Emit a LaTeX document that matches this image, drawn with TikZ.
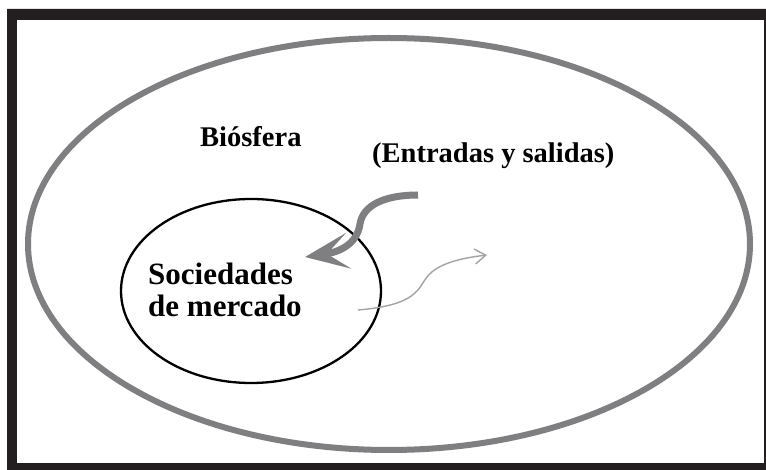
\documentclass[tikz,border=0pt]{standalone}
\usepackage{fontspec}
\setmainfont{Liberation Serif}
\usetikzlibrary{
    arrows.meta,
    calc,
    positioning
}
\definecolor{frm}{HTML}{231F20}
\definecolor{biogray}{HTML}{7F7F81}
\definecolor{thingray}{HTML}{A3A3A5}
\tikzset{lbl/.style={inner sep=0pt, anchor=base west, font=\fontsize{28.5}{30}\selectfont\bfseries}}

\begin{document}
\begin{tikzpicture}[x=1pt, y=-1pt]
                        \useasboundingbox (0, 0) rectangle (766, 470);
                        \fill[frm, even odd rule] (7, 9) rectangle (780, 480) (17, 20) rectangle (764, 463);
                        \fill[white] (17, 20) rectangle (764, 463);
                        \draw[biogray, line width=6pt] (389, 244) ellipse [x radius=361, y radius=206];
                        \draw[black, line width=2.3pt] (251, 291) ellipse [x radius=130, y radius=92];
                        \node[lbl] (bio) at (200, 147) {Biósfera};
                        \node[lbl] (es) at (372, 163) {(Entradas y salidas)};
                        \node[lbl, font=\fontsize{31}{32}\selectfont\bfseries] (soc) at (148, 285) {Sociedades};
                        \node[lbl, font=\fontsize{31}{32}\selectfont\bfseries] (mer) at (148, 317) {de mercado};
                        \coordinate (in1) at (418, 195);
                        \coordinate (in2) at (305, 257);
                        \coordinate (out1) at (358, 310);
                        \coordinate (out2) at (487, 255);
                        \draw[biogray, line width=7pt, -{Stealth[length=44pt, width=36pt, inset=22pt]}]
                        (in1) .. controls (385, 195) and (363, 205) .. (360, 224)
                        .. controls (357, 244) and (340, 252) .. (in2);
                        \draw[thingray, line width=1.4pt, -{Straight Barb[length=11pt, width=15pt]}]
                        (out1) .. controls (418, 305) and (418, 288) .. (427, 277)
                        .. controls (438, 263) and (462, 258) .. (out2);
                    \end{tikzpicture}
\end{document}
